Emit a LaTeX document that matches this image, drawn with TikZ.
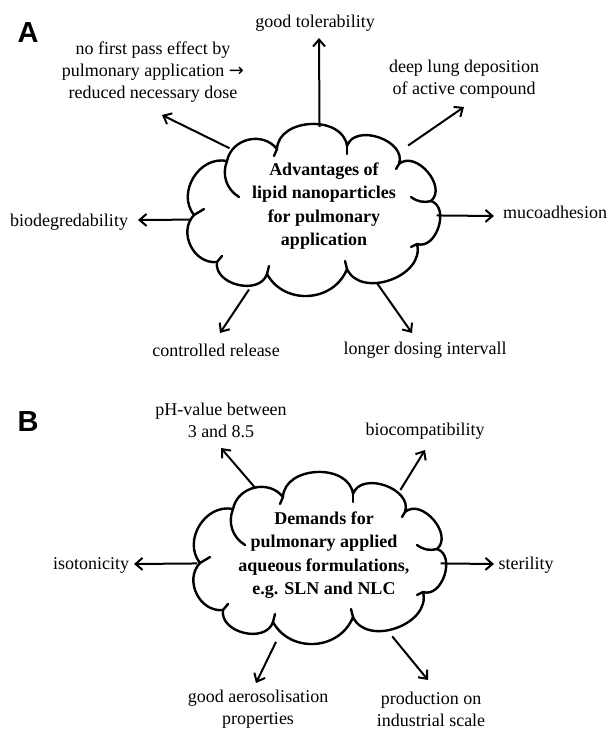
\documentclass[tikz,border=0pt]{standalone}
\usepackage{fontspec}
\setmainfont{Liberation Serif}
\newfontfamily\panelfont{Liberation Sans}
\newfontfamily\arrowfont{DejaVu Sans}
\usetikzlibrary{shapes.geometric,arrows.meta}

\begin{document}
\begin{tikzpicture}[x=1pt, y=-1pt, font=\fontsize{18}{22}\selectfont]
    \tikzset{
        puffline/.style={draw=black, line width=2.4pt, line join=round, line cap=round},
        cloudfoot/.style={shape=ellipse, draw=none, inner sep=0pt, minimum width=242pt, minimum height=158pt},
        headtext/.style={align=center, inner sep=0pt, font=\fontsize{18}{23.5}\selectfont\bfseries},
        itemtext/.style={align=center, inner sep=0pt},
        panellabel/.style={inner sep=0pt, font=\fontsize{29}{29}\selectfont\panelfont\bfseries},
        spoke/.style={draw=black, line width=2pt, -{Straight Barb[length=7pt,width=12pt]}},
        puffcloud/.pic={
            \draw[puffline, looseness=1.15] (-120,8) to[bend left=70] (-87,-46) to[bend left=65] (-37,-58)
                to[bend left=85] (33,-61) to[bend left=90] (85,-43) to[bend left=90] (117,-6)
                to[bend left=90] (103,37) to[bend left=85] (33,62) to[bend left=65] (-47,67)
                to[bend left=85] (-97,55) to[bend left=70] (-120,8);
            \draw[puffline] (-87,-46) to[bend right=40] (-75,-10);
            \draw[puffline] (117,-6) to[bend left=25] (97,-10);
            \foreach \xa/\ya/\xb/\yb in {-37/-58/-40/-51, 33/-61/33/-53, 85/-43/82/-38, 103/37/97/40,
                                       33/62/31/54, -47/67/-45/59, -120/8/-110/2, -97/55/-92/49}
                \draw[puffline] (\xa,\ya) -- (\xb,\yb);
        }
    }
    \useasboundingbox (0,0) rectangle (608,731);

    \begin{scope}
        \node[panellabel] (labA) at (28,33) {A};
        \node[cloudfoot] (cloudA) at (314,207) {};
        \pic at (cloudA) {puffcloud};
        \node[headtext] (headA) at (324,206) {Advantages of\\lipid nanoparticles\\for pulmonary\\application};

        \node[itemtext] (firstpass) at (153,72) {no first pass effect by\\pulmonary application {\arrowfont →}\\reduced necessary dose};
        \node[itemtext] (tolerab) at (315,23) {good tolerability};
        \node[itemtext] (deeplung) at (464,79) {deep lung deposition\\of active compound};
        \node[itemtext] (biodeg) at (69,222) {biodegredability};
        \node[itemtext] (mucoad) at (555,212) {mucoadhesion};
        \node[itemtext] (controlled) at (216,350) {controlled release};
        \node[itemtext] (longer) at (425,350) {longer dosing intervall};

        \coordinate (firstpasstip) at (162,115);
        \coordinate (tolerabtip) at (319,38);
        \coordinate (deeplungtip) at (464,107);
        \coordinate (biodegtip) at (138,220);
        \coordinate (mucoadtip) at (494,216);
        \coordinate (controlledtip) at (220,333);
        \coordinate (longertip) at (412,333);

        \draw[spoke, shorten <=2pt] (cloudA.145) -- (firstpasstip);
        \draw[spoke, shorten <=1pt] (cloudA.86) -- (tolerabtip);
        \draw[spoke, shorten <=10pt] (cloudA.33) -- (deeplungtip);
        \draw[spoke, shorten <=4pt] (cloudA.186) -- (biodegtip);
        \draw[spoke, shorten <=2pt] (cloudA.356) -- (mucoadtip);
        \draw[spoke, shorten <=15pt] (cloudA.231) -- (controlledtip);
        \draw[spoke, shorten <=8pt] (cloudA.310) -- (longertip);
    \end{scope}

    \begin{scope}
        \node[panellabel] (labB) at (28,422) {B};
        \node[cloudfoot] (cloudB) at (320,555) {};
        \pic at (cloudB) {puffcloud};
        \node[headtext] (headB) at (324,555) {Demands for\\pulmonary applied\\aqueous formulations,\\e.g. SLN and NLC};

        \node[itemtext] (phvalue) at (221,420) {pH-value between\\3 and 8.5};
        \node[itemtext] (biocomp) at (425,431) {biocompatibility};
        \node[itemtext] (isoton) at (91,565) {isotonicity};
        \node[itemtext] (steril) at (526,565) {sterility};
        \node[itemtext] (aerosol) at (258,709) {good aerosolisation\\properties};
        \node[itemtext] (product) at (431,709) {production on\\industrial scale};

        \coordinate (phvaluetip) at (221,448);
        \coordinate (biocomptip) at (425,450);
        \coordinate (isotontip) at (134,564);
        \coordinate (steriltip) at (494,564);
        \coordinate (aerosoltip) at (256,683);
        \coordinate (producttip) at (428,680);

        \draw[spoke] (cloudB.134) -- (phvaluetip);
        \draw[spoke, shorten <=5pt] (cloudB.38) -- (biocomptip);
        \draw[spoke, shorten <=2pt] (cloudB.184) -- (isotontip);
        \draw[spoke] (cloudB.356) -- (steriltip);
        \draw[spoke, shorten <=13pt] (cloudB.243) -- (aerosoltip);
        \draw[spoke, shorten <=17pt] (cloudB.312) -- (producttip);
    \end{scope}
\end{tikzpicture}
\end{document}
